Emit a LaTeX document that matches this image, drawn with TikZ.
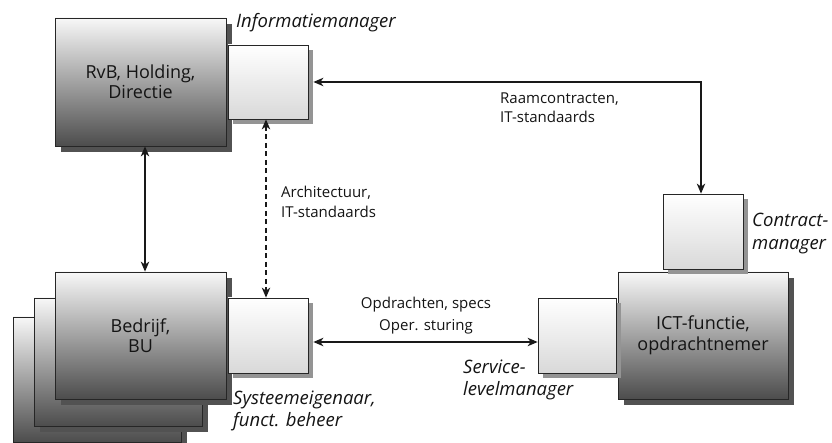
\documentclass[tikz,border=0pt]{standalone}
\usepackage{fontspec}
\setmainfont{Open Sans}
\usetikzlibrary{arrows.meta,shadows}
\tikzset{
  bigbox/.style={draw=black!85, line width=0.8pt, top color=black!3, bottom color=black!70,
     general shadow={fill=black!68, shadow xshift=6pt, shadow yshift=-6pt},
     text=black!92, align=center, font=\fontsize{18}{20.5}\selectfont, inner sep=0pt},
  smallbox/.style={draw=black!85, line width=0.8pt, top color=white, bottom color=black!15,
     general shadow={fill=black!42, shadow xshift=5pt, shadow yshift=-5pt}, inner sep=0pt},
  role/.style={font=\fontsize{18.5}{22.5}\selectfont\itshape, text=black!92, align=left, inner sep=0pt},
  lbl/.style={font=\fontsize{15}{19.5}\selectfont, text=black!92, inner sep=0pt},
  conn/.style={line width=1.2pt, black!90, {Stealth[length=10pt,width=8.5pt,inset=3pt]}-{Stealth[length=10pt,width=8.5pt,inset=3pt]}},
}
\begin{document}
\begin{tikzpicture}[x=1pt,y=-1pt]
\useasboundingbox (0,0) rectangle (832,443);
% stacked business units (back to front)
\node[bigbox, minimum width=168pt, minimum height=125pt] (back) at (97,379.5) {};
\node[bigbox, minimum width=168pt, minimum height=128pt] (mid) at (118,362) {};
\node[bigbox, minimum width=171pt, minimum height=127pt] (bedrijf) at (140.5,335.5) {Bedrijf,\\BU};
% top-left
\node[bigbox, minimum width=171pt, minimum height=128pt] (rvb) at (140.5,82) {RvB, Holding,\\Directie};
\node[smallbox, minimum width=80pt, minimum height=74pt] (info) at (268,82) {};
\node[smallbox, minimum width=80pt, minimum height=75pt] (syst) at (268,335.5) {};
% right
\node[bigbox, minimum width=170pt, minimum height=127pt] (ict) at (703,335.5) {ICT-functie,\\opdrachtnemer};
\node[smallbox, minimum width=78pt, minimum height=75pt] (serv) at (577,335.5) {};
\node[smallbox, minimum width=80pt, minimum height=75pt] (contr) at (703,231.5) {};
% role labels
\node[role, anchor=west] (linfo) at (236,23) {Informatiemanager};
\node[role, anchor=west] (lsyst) at (233,411) {Systeemeigenaar,\\funct. beheer};
\node[role, anchor=west] (lcontr) at (752,233.5) {Contract-\\manager};
\node[role, anchor=west] (lserv) at (463,380) {Service-\\levelmanager};
% connector labels
\node[lbl, anchor=west, align=left] (lraam) at (500,107.5) {Raamcontracten,\\IT-standaards};
\node[lbl, anchor=west, align=left] (larch) at (281,202) {Architectuur,\\IT-standaards};
\node[lbl, align=center, font=\fontsize{15}{22}\selectfont] (lopdr) at (426,316) {Opdrachten, specs\\Oper. sturing};
% connectors
\draw[conn] ([xshift=4.5pt]rvb.south) -- ([xshift=4.5pt]bedrijf.north);
\draw[conn, dashed, dash pattern=on 5pt off 3.5pt] ([xshift=-2pt]info.south) -- ([xshift=-2pt]syst.north);
\draw[conn] ([xshift=5pt]info.east) -| ([xshift=-2pt]contr.north);
\draw[conn] ([xshift=5pt,yshift=-6.5pt]syst.east) -- ([yshift=-6.5pt]serv.west);
\end{tikzpicture}
\end{document}
